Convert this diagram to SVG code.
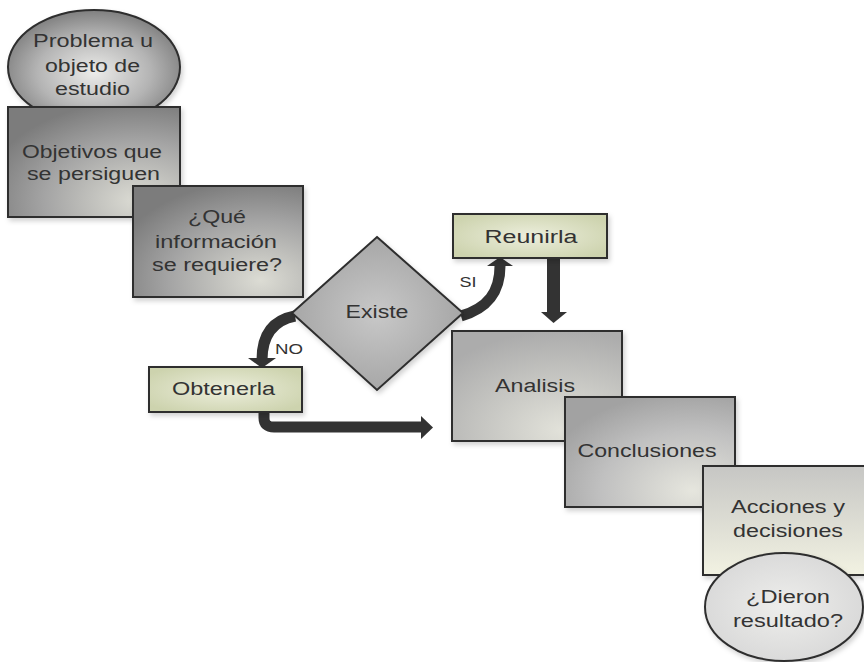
<svg xmlns="http://www.w3.org/2000/svg" width="864" height="662" viewBox="0 0 864 662">
  <defs>
    <radialGradient id="gEllipseDark" cx="0.5" cy="0.55" r="0.6">
      <stop offset="0" stop-color="#ececea"/>
      <stop offset="0.55" stop-color="#b4b4b4"/>
      <stop offset="1" stop-color="#747474"/>
    </radialGradient>
    <radialGradient id="gGrayDark" cx="0.75" cy="0.85" r="0.9">
      <stop offset="0" stop-color="#dcdcd4"/>
      <stop offset="0.6" stop-color="#a4a4a4"/>
      <stop offset="1" stop-color="#7c7c7c"/>
    </radialGradient>
    <radialGradient id="gGrayMid" cx="0.75" cy="0.85" r="0.9">
      <stop offset="0" stop-color="#e6e6de"/>
      <stop offset="0.6" stop-color="#c0c0c0"/>
      <stop offset="1" stop-color="#a2a2a2"/>
    </radialGradient>
    <radialGradient id="gGrayLight" cx="0.65" cy="0.9" r="0.9">
      <stop offset="0" stop-color="#e2e2da"/>
      <stop offset="1" stop-color="#acacac"/>
    </radialGradient>
    <radialGradient id="gDiamond" cx="0.5" cy="0.5" r="0.6">
      <stop offset="0" stop-color="#c8c8c8"/>
      <stop offset="1" stop-color="#a0a0a0"/>
    </radialGradient>
    <radialGradient id="gGreen" cx="0.5" cy="0.5" r="0.6">
      <stop offset="0" stop-color="#eceedc"/>
      <stop offset="1" stop-color="#cdd3ae"/>
    </radialGradient>
    <linearGradient id="gPale" x1="0" y1="0" x2="0" y2="1">
      <stop offset="0" stop-color="#c6c6c4"/>
      <stop offset="1" stop-color="#f2f2e2"/>
    </linearGradient>
    <radialGradient id="gEllipseLight" cx="0.5" cy="0.5" r="0.6">
      <stop offset="0" stop-color="#eeeeec"/>
      <stop offset="1" stop-color="#d6d6d6"/>
    </radialGradient>
    <filter id="shadow" x="-10%" y="-10%" width="130%" height="130%">
      <feDropShadow dx="2" dy="3" stdDeviation="2.5" flood-color="#000" flood-opacity="0.18"/>
    </filter>
  </defs>
  <style>
    .box { stroke: #2e2e2e; stroke-width: 2; filter: url(#shadow); }
    .lbl { font-family: "Liberation Sans", Arial, sans-serif; font-size: 18px; fill: #333; text-anchor: middle; }
    .small { font-family: "Liberation Sans", Arial, sans-serif; font-size: 14px; fill: #333; text-anchor: middle; }
    .flow { fill: none; stroke: #333; stroke-width: 11; }
    .head { fill: #333; }
  </style>

  <rect width="864" height="662" fill="#fff"/>

  <!-- connectors -->
  <g id="connectors">
    <!-- Existe -> Obtenerla (NO) -->
    <path class="flow" d="M 295 316 C 274 320 262 334 262 360"/>
    <polygon class="head" points="248,358 276,358 262,368"/>
    <!-- Existe -> Reunirla (SI) -->
    <path class="flow" d="M 461 316 C 488 308 500 292 500 266"/>
    <polygon class="head" points="487,266 513,266 500,257"/>
    <!-- Reunirla -> Analisis -->
    <rect x="547" y="258" width="13" height="55" fill="#333"/>
    <polygon class="head" points="541,312 567,312 553.5,323"/>
    <!-- Obtenerla -> Analisis -->
    <path class="flow" d="M 264 410 L 264 418 Q 264 427 274 427 L 424 427" stroke-width="13"/>
    <polygon class="head" points="421,416 421,439 433,427.5"/>
  </g>

  <g id="n-problema">
    <ellipse class="box" cx="94" cy="67" rx="86" ry="57" fill="url(#gEllipseDark)"/>
    <text class="lbl" x="93" y="47" textLength="120" lengthAdjust="spacingAndGlyphs">Problema u</text>
    <text class="lbl" x="92.5" y="72" textLength="95" lengthAdjust="spacingAndGlyphs">objeto de</text>
    <text class="lbl" x="92.5" y="95" textLength="75" lengthAdjust="spacingAndGlyphs">estudio</text>
  </g>

  <g id="n-objetivos">
    <rect class="box" x="8" y="107" width="172" height="110" fill="url(#gGrayDark)"/>
    <text class="lbl" x="92" y="158" textLength="140" lengthAdjust="spacingAndGlyphs">Objetivos que</text>
    <text class="lbl" x="93.5" y="180" textLength="133" lengthAdjust="spacingAndGlyphs">se persiguen</text>
  </g>

  <g id="n-informacion">
    <rect class="box" x="133" y="186" width="170" height="111" fill="url(#gGrayDark)"/>
    <text class="lbl" x="217" y="223" textLength="58" lengthAdjust="spacingAndGlyphs">¿Qué</text>
    <text class="lbl" x="216" y="248" textLength="122" lengthAdjust="spacingAndGlyphs">información</text>
    <text class="lbl" x="217" y="271" textLength="130" lengthAdjust="spacingAndGlyphs">se requiere?</text>
  </g>

  <g id="n-existe">
    <polygon class="box" points="377,237 463,313 377,390 292,313" fill="url(#gDiamond)"/>
    <text class="lbl" x="377" y="318" textLength="63" lengthAdjust="spacingAndGlyphs">Existe</text>
  </g>

  <g id="n-obtenerla">
    <rect class="box" x="149" y="367" width="153" height="45" fill="url(#gGreen)"/>
    <text class="lbl" x="223.5" y="395" textLength="103" lengthAdjust="spacingAndGlyphs">Obtenerla</text>
  </g>

  <g id="n-reunirla">
    <rect class="box" x="453" y="214" width="154" height="44" fill="url(#gGreen)"/>
    <text class="lbl" x="531" y="243" textLength="93" lengthAdjust="spacingAndGlyphs">Reunirla</text>
  </g>

  <text class="small" x="289" y="354" textLength="28" lengthAdjust="spacingAndGlyphs">NO</text>
  <text class="small" x="468" y="287" textLength="17" lengthAdjust="spacingAndGlyphs">SI</text>

  <g id="n-analisis">
    <rect class="box" x="452" y="331" width="170" height="110" fill="url(#gGrayLight)"/>
    <text class="lbl" x="535" y="392" textLength="80" lengthAdjust="spacingAndGlyphs">Analisis</text>
  </g>

  <g id="n-conclusiones">
    <rect class="box" x="565" y="397" width="170" height="110" fill="url(#gGrayMid)"/>
    <text class="lbl" x="647" y="457" textLength="139" lengthAdjust="spacingAndGlyphs">Conclusiones</text>
  </g>

  <g id="n-acciones">
    <rect class="box" x="703" y="466" width="180" height="109" fill="url(#gPale)"/>
    <text class="lbl" x="788" y="513" textLength="114" lengthAdjust="spacingAndGlyphs">Acciones y</text>
    <text class="lbl" x="788" y="537" textLength="110" lengthAdjust="spacingAndGlyphs">decisiones</text>
  </g>

  <g id="n-resultado">
    <ellipse class="box" cx="784" cy="607" rx="79" ry="54" fill="url(#gEllipseLight)"/>
    <text class="lbl" x="788" y="603" textLength="84" lengthAdjust="spacingAndGlyphs">¿Dieron</text>
    <text class="lbl" x="788" y="627" textLength="110" lengthAdjust="spacingAndGlyphs">resultado?</text>
  </g>
</svg>
